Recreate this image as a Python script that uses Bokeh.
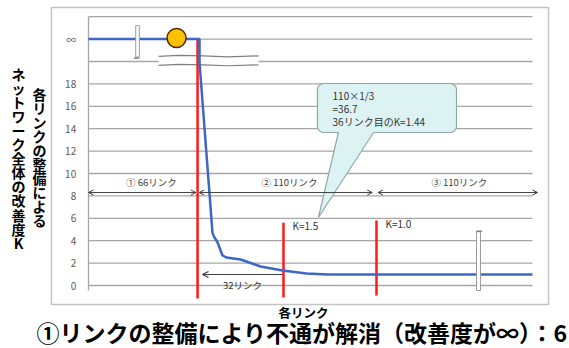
import numpy as np
from bokeh.plotting import figure
from bokeh.models import Range1d, Arrow, OpenHead
from bokeh.core.properties import value
from bokeh.embed import file_html
from bokeh.resources import INLINE

FONT = value("Noto Sans CJK JP")

# ---- data ----
k_ticks = [0, 2, 4, 6, 8, 10, 12, 14, 16, 18, 22]
tick_labels = ["0", "2", "4", "6", "8", "10", "12", "14", "16", "18", "∞"]
grid_values = [0, 2, 4, 6, 8, 10, 12, 14, 16, 18, 20, 22, 24]

# improvement degree K of the network by link rank (∞ drawn at 22)
curve_x = [0, 67.7, 67.7, 75.6, 76.2, 78.7, 81.7, 84.1, 92.7, 104.9, 118.3, 133, 146, 175.6, 270.7]
curve_y = [22, 22, 19.9, 4.7, 4.46, 3.84, 2.68, 2.5, 2.32, 1.7, 1.34, 1.07, 0.98, 0.98, 0.98]

red_x = [66.5, 118.9, 175.6]
red_top = [22, 5.6, 5.8]
red_bottom = [-1.16, -1.07, -0.9]
k_labels = ["K=1.5", "K=1.0"]

group_start = [0, 67.5, 176.5]
group_end = [65.5, 173, 273.8]
group_labels = ["①  66リンク", "②  110リンク", "③  110リンク"]
group_label_x = [39, 123.2, 226.8]

sub_start, sub_end = 69.5, 118.3
sub_label = "32リンク"

callout_lines = ["110×1/3", "=36.7", "36リンク目のK=1.44"]

y_title_right = "各リンクの整備による"
y_title_left = "ネットワーク全体の改善度K"
x_title = "各リンク"
bottom_text = "①リンクの整備により不通が解消（改善度が∞）：6"

# ---- figure: frame covers whole canvas ----
PXX, PXY = 1.64, 11.2          # pixels per x unit / per K unit
W, H = 569, 348
x0 = -88 / PXX
y1 = 285 / PXY
p = figure(width=W, height=H, output_backend="svg", toolbar_location=None,
           x_range=Range1d(x0, x0 + W / PXX), y_range=Range1d(y1 - H / PXY, y1),
           x_axis_location=None, y_axis_location=None, min_border=0)
p.grid.visible = False
p.outline_line_color = None
p.background_fill_color = "white"

def px_y(py):
    return (285 - py) / PXY

def px_x(px):
    return (px - 88) / PXX

# outer chart box
p.quad(left=[-22.6], right=[280.5], top=[px_y(7)], bottom=[px_y(304)],
       fill_color="white", line_color="#C4C4C4", line_width=1.5)

# gridlines
xmax = curve_x[-1]
p.segment(x0=[0] * len(grid_values), x1=[xmax] * len(grid_values),
          y0=grid_values, y1=grid_values, line_color="#A6A6A6", line_width=1.3)

# axis break band near the top (between 20 and ∞)
up_x = [42.7, 55, 70, 85, 103.7]
up_y = [20.45, 20.55, 20.5, 20.42, 20.5]
lo_y = [19.65, 19.75, 19.7, 19.62, 19.7]
p.patch(up_x + up_x[::-1], up_y + lo_y[::-1], fill_color="white", line_color=None)
p.line(up_x, up_y, line_color="#808080", line_width=1.2)
p.line(up_x, lo_y, line_color="#808080", line_width=1.2)

# y axis line
p.segment(x0=[0], x1=[0], y0=[24], y1=[-0.45], line_color="#A6A6A6", line_width=1.3)

# tick labels
p.text(x=[-7.5] * len(k_ticks), y=k_ticks, text=tick_labels, text_align="right",
       text_baseline="middle", text_font=FONT, text_font_size="10px", text_color="#595959")

# red threshold lines
p.segment(x0=red_x, x1=red_x, y0=red_top, y1=red_bottom, line_color="#FF1A1A", line_width=2.5)

# data curve
p.line(curve_x, curve_y, line_color="#3C67C6", line_width=2.5)

# break marks
p.quad(left=[28.8], right=[31.0], top=[23.2], bottom=[20.4],
       fill_color="white", line_color="#9A9A9A", line_width=1)
p.segment(x0=[27.6], x1=[31.0], y0=[20.3], y1=[20.3], line_color="#707070", line_width=1.2)
p.quad(left=[236.6], right=[239.0], top=[4.8], bottom=[-0.45],
       fill_color="white", line_color="#9A9A9A", line_width=1)
p.segment(x0=[236.6], x1=[240.0], y0=[4.85], y1=[4.85], line_color="#707070", line_width=1.2)

# orange circle
p.scatter(x=[53.7], y=[22.1], size=19, marker="circle", fill_color="#FFC000",
          line_color="#4A3000", line_width=1.5)

# K labels
p.text(x=[r + 5.5 for r in red_x[1:]], y=[5.36, 5.54], text=k_labels, text_align="left",
       text_baseline="middle", text_font=FONT, text_font_size="10px", text_color="#333333")

# group arrows
for s, e in zip(group_start, group_end):
    p.add_layout(Arrow(x_start=s, x_end=e, y_start=8.3, y_end=8.3,
                       line_color="#404040", line_width=1,
                       start=OpenHead(size=5, line_color="#404040", line_width=1),
                       end=OpenHead(size=5, line_color="#404040", line_width=1)))
p.text(x=group_label_x, y=[9.2] * 3, text=group_labels, text_align="center",
       text_baseline="middle", text_font=FONT, text_font_size="9.5px", text_color="#404040")

# 32 links arrow
p.add_layout(Arrow(x_start=sub_end, x_end=sub_start, y_start=0.98, y_end=0.98,
                   line_color="#404040", line_width=1.2,
                   end=OpenHead(size=6, line_color="#404040", line_width=1.2)))
p.text(x=[93.9], y=[0.05], text=[sub_label], text_align="center", text_baseline="middle",
       text_font=FONT, text_font_size="9.5px", text_color="#333333")

# callout balloon
bx0, bx1, by0, by1 = 139.6, 224.4, px_y(132), px_y(83)
rx, ry = 4.0, 0.55
def arc(cx, cy, a0, a1):
    t = np.linspace(a0, a1, 7)
    return list(cx + rx * np.cos(t)), list(cy + ry * np.sin(t))
xs, ys = [173.8], [by0]
for cx, cy, a0, a1 in [(bx1 - rx, by0 + ry, -np.pi / 2, 0), (bx1 - rx, by1 - ry, 0, np.pi / 2),
                       (bx0 + rx, by1 - ry, np.pi / 2, np.pi), (bx0 + rx, by0 + ry, np.pi, 1.5 * np.pi)]:
    ax, ay = arc(cx, cy, a0, a1)
    xs += ax
    ys += ay
xs += [152.4, 140.2, 173.8]
ys += [by0, px_y(217), by0]
p.patch(xs, ys, fill_color="#DDF3F3", line_color="#8FA9A9", line_width=1.2)
p.text(x=[148.8] * 3, y=[px_y(95), px_y(108), px_y(120.5)], text=callout_lines, text_align="left",
       text_baseline="middle", text_font=FONT, text_font_size="10px", text_color="#333333")

# y-axis title (vertical writing, one character per row)
def vertical(chars, xc, top_px, step_px):
    ys_ = [px_y(top_px + step_px * (i + 0.5)) for i in range(len(chars))]
    p.text(x=[xc] * len(chars), y=ys_, text=list(chars), text_align="center",
           text_baseline="middle", text_font=FONT, text_font_size="14px",
           text_font_style="bold", text_color="black")

vertical(y_title_right, px_x(39), 86, 14.0)
vertical(y_title_left, px_x(18), 66, 14.1)

# x-axis title
p.text(x=[131.1], y=[px_y(312)], text=[x_title], text_align="center", text_baseline="middle",
       text_font=FONT, text_font_size="12.5px", text_font_style="bold", text_color="black")

# bottom caption
p.text(x=[-31.7], y=[px_y(331)], text=[bottom_text], text_align="left", text_baseline="middle",
       text_font=FONT, text_font_size="23px", text_font_style="bold", text_color="black")

open("out.html", "w").write(file_html(p, INLINE))
